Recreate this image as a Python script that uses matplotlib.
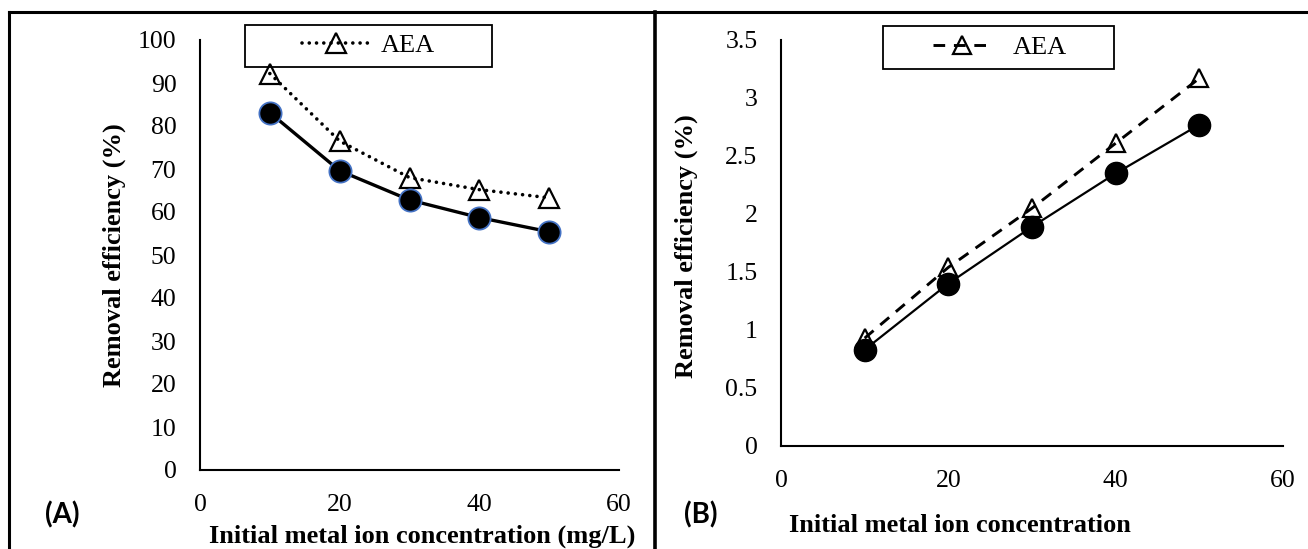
import matplotlib
matplotlib.use("Agg")
import matplotlib.pyplot as plt
from matplotlib.lines import Line2D
from matplotlib.patches import Rectangle

plt.rcParams['font.family'] = ['Liberation Serif', 'DejaVu Serif']

# data
conc = [10, 20, 30, 40, 50]
a_aea = [92.2, 76.5, 68.0, 65.2, 63.3]
a_other = [83.1, 69.6, 62.8, 58.7, 55.4]
b_aea = [0.93, 1.54, 2.05, 2.61, 3.17]
b_other = [0.83, 1.40, 1.89, 2.35, 2.77]

x_ticks = [0, 20, 40, 60]
a_yticks = [0, 10, 20, 30, 40, 50, 60, 70, 80, 90, 100]
b_yticks = [0, 0.5, 1, 1.5, 2, 2.5, 3, 3.5]
b_yticklabels = ['0', '0.5', '1', '1.5', '2', '2.5', '3', '3.5']

W, H = 1308, 549
fig = plt.figure(figsize=(W / 100, H / 100), dpi=100)


def px_rect(x0, y0, x1, y1):
    # pixel box (top-left origin) -> figure fraction
    return [x0 / W, 1 - y1 / H, (x1 - x0) / W, (y1 - y0) / H]


def style_axes(ax):
    for s in ['top', 'right']:
        ax.spines[s].set_visible(False)
    for s in ['left', 'bottom']:
        ax.spines[s].set_linewidth(1.5)
    ax.tick_params(length=0, labelsize=18.5)
    ax.tick_params(axis='y', pad=17)
    ax.tick_params(axis='x', pad=17)


# ---- panel A
axA = fig.add_axes(px_rect(200, 40, 619, 470))
axA.plot(conc, a_aea, color='black', lw=2.6, linestyle=(0, (0.01, 2.0)),
         dash_capstyle='round', marker='^', ms=14, mfc='none', mec='black',
         mew=1.6, label='AEA')
axA.plot(conc, a_other, color='black', lw=2.4, marker='o', ms=16,
         mfc='black', mec='#4472C4', mew=1.3, label='_nolegend_')
axA.set_xlim(0, 60)
axA.set_ylim(0, 100)
axA.set_xticks(x_ticks)
axA.set_yticks(a_yticks)
style_axes(axA)
axA.set_ylabel('Removal efficiency (%)', fontsize=19, fontweight='bold')
axA.set_xlabel('Initial metal ion concentration (mg/L)', fontsize=19,
               fontweight='bold')
axA.yaxis.set_label_coords(-0.204, 0.50)
axA.xaxis.set_label_coords(0.53, -0.153)
axA.xaxis.label.set_va('center')
axA.yaxis.label.set_va('center')
legA = axA.legend(loc='center', bbox_to_anchor=(368.5 / W, 1 - 45.5 / H),
                  bbox_transform=fig.transFigure, frameon=False, fontsize=19,
                  handlelength=2.6, handletextpad=0.4)

# ---- panel B
axB = fig.add_axes(px_rect(781, 40, 1283, 446))
axB.plot(conc, b_aea, color='black', lw=2.1, linestyle=(0, (4, 3)),
         marker='^', ms=13, mfc='none', mec='black', mew=1.6, label='AEA')
axB.plot(conc, b_other, color='black', lw=1.6, marker='o', ms=16,
         mfc='black', mec='black', label='_nolegend_')
axB.set_xlim(0, 60)
axB.set_ylim(0, 3.5)
axB.set_xticks(x_ticks)
axB.set_yticks(b_yticks)
axB.set_yticklabels(b_yticklabels)
style_axes(axB)
axB.set_ylabel('Removal efficiency (%)', fontsize=19, fontweight='bold')
axB.set_xlabel('Initial metal ion concentration', fontsize=19,
               fontweight='bold')
axB.yaxis.set_label_coords(-0.189, 0.493)
axB.xaxis.set_label_coords(0.357, -0.195)
axB.xaxis.label.set_va('center')
axB.yaxis.label.set_va('center')
legB = axB.legend(loc='center', bbox_to_anchor=(1000 / W, 1 - 47.5 / H),
                  bbox_transform=fig.transFigure, frameon=False, fontsize=19,
                  handlelength=2.2, handletextpad=0.85)

# legend boxes (wide Excel-style frames)
for (x0, y0, x1, y1) in [(245, 24.5, 492, 66.5), (883, 26, 1114, 69)]:
    r = px_rect(x0, y0, x1, y1)
    fig.add_artist(Rectangle((r[0], r[1]), r[2], r[3], transform=fig.transFigure,
                             fill=False, edgecolor='black', lw=1.3))

# outer frame lines
fig.add_artist(Line2D([9 / W, 1], [1 - 12 / H, 1 - 12 / H], color='black', lw=2.2,
                      transform=fig.transFigure))
fig.add_artist(Line2D([9 / W, 9 / W], [0, 1 - 12 / H], color='black', lw=2.2,
                      transform=fig.transFigure))
fig.add_artist(Line2D([655 / W, 655 / W], [0, 1 - 12 / H], color='black', lw=2.6,
                      transform=fig.transFigure))

# panel tags
fig.text(62 / W, 1 - 515 / H, '(A)', family='Lato', fontweight='bold',
         fontsize=20, ha='center', va='center')
fig.text(701 / W, 1 - 515 / H, '(B)', family='Lato', fontweight='bold',
         fontsize=20, ha='center', va='center')

fig.savefig('out.png', dpi=100)
